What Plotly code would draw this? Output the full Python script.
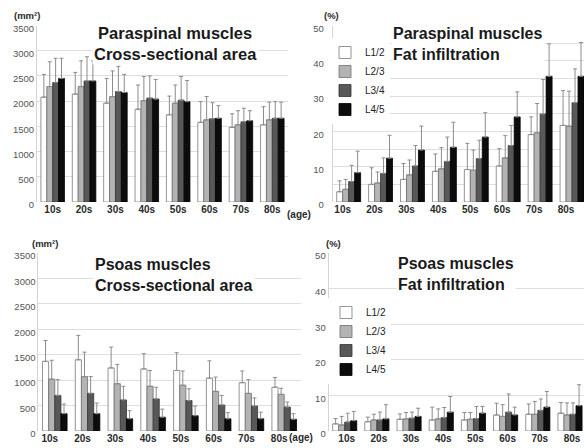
import plotly.graph_objects as go

W, H = 584, 448

ages = ["10s", "20s", "30s", "40s", "50s", "60s", "70s", "80s"]
levels = ["L1/2", "L2/3", "L3/4", "L4/5"]

# Paraspinal muscles, cross-sectional area (mm²): mean and SD, rows = L1/2..L4/5
para_csa_mean = [
    [2080, 2140, 1960, 1840, 1730, 1580, 1480, 1530],
    [2290, 2290, 2090, 2010, 1960, 1630, 1530, 1630],
    [2370, 2400, 2190, 2060, 2020, 1650, 1590, 1660],
    [2450, 2400, 2170, 2040, 1990, 1660, 1610, 1660],
]
para_csa_sd = [
    [450, 430, 490, 480, 370, 410, 270, 360],
    [490, 510, 510, 480, 360, 460, 280, 350],
    [480, 480, 500, 440, 470, 320, 270, 330],
    [400, 400, 360, 390, 420, 250, 200, 320],
]

# Paraspinal muscles, fat infiltration (%)
para_fat_mean = [
    [2.9, 5.0, 6.4, 8.7, 9.2, 10.2, 19.1, 21.7],
    [3.6, 5.4, 7.7, 9.4, 9.0, 12.5, 19.6, 21.5],
    [5.8, 8.1, 10.2, 11.5, 12.3, 16.0, 24.9, 28.1],
    [8.3, 12.4, 14.7, 15.5, 18.4, 24.1, 35.6, 35.6],
]
para_fat_sd = [
    [3.1, 4.7, 4.5, 4.9, 7.4, 4.9, 5.0, 9.9],
    [2.8, 3.1, 4.2, 6.0, 5.7, 6.3, 8.3, 9.9],
    [4.6, 4.4, 5.8, 6.9, 5.2, 5.7, 9.8, 9.6],
    [6.1, 6.5, 6.8, 7.1, 6.9, 7.1, 9.2, 9.6],
]

# Psoas muscles, cross-sectional area (mm²)
psoas_csa_mean = [
    [1370, 1400, 1240, 1220, 1190, 1040, 950, 860],
    [1020, 1070, 930, 880, 900, 780, 740, 720],
    [700, 740, 610, 630, 600, 510, 490, 470],
    [340, 340, 240, 270, 300, 240, 240, 230],
]
psoas_csa_sd = [
    [410, 480, 410, 300, 350, 340, 230, 190],
    [370, 480, 380, 310, 280, 280, 270, 120],
    [310, 330, 270, 230, 230, 190, 160, 100],
    [190, 210, 160, 160, 190, 120, 130, 110],
]

# Psoas muscles, fat infiltration (%)
psoas_fat_mean = [
    [2.0, 2.6, 3.3, 3.1, 3.1, 4.5, 4.7, 5.0],
    [1.7, 3.1, 3.4, 3.4, 3.3, 4.1, 4.7, 4.5],
    [2.5, 3.1, 3.6, 3.8, 3.5, 5.3, 5.8, 4.7],
    [2.9, 3.4, 4.1, 5.3, 5.0, 4.5, 6.7, 7.1],
]
psoas_fat_sd = [
    [1.5, 1.3, 1.5, 3.6, 2.1, 3.3, 2.9, 3.0],
    [2.4, 1.6, 1.8, 2.8, 1.9, 3.3, 3.6, 3.4],
    [2.5, 2.2, 1.7, 2.8, 3.4, 5.1, 3.2, 3.2],
    [2.6, 4.0, 2.3, 4.4, 1.9, 2.2, 4.4, 5.9],
]

fill_colors = ["#ffffff", "#b3b3b3", "#585858", "#0c0c0c"]
edge_colors = ["#7a7a7a", "#6e6e6e", "#333333", "#000000"]

FONT = "Liberation Sans, Arial, sans-serif"


def px_x(v):
    return v / W


def px_y(v):
    return 1 - v / H


fig = go.Figure()

panels = [
    ("x", "y", para_csa_mean, para_csa_sd, None),
    ("x2", "y2", para_fat_mean, para_fat_sd, "legend"),
    ("x3", "y3", psoas_csa_mean, psoas_csa_sd, None),
    ("x4", "y4", psoas_fat_mean, psoas_fat_sd, "legend2"),
]

for xa, ya, means, sds, leg in panels:
    for i, lvl in enumerate(levels):
        fig.add_trace(go.Bar(
            x=ages, y=means[i], name=lvl,
            xaxis=xa, yaxis=ya,
            marker=dict(color=fill_colors[i],
                        line=dict(color=edge_colors[i], width=0.8)),
            error_y=dict(type="data", symmetric=False, array=sds[i],
                         arrayminus=[0] * len(ages), color="#8c8c8c",
                         thickness=1, width=2),
            showlegend=leg is not None,
            legend=leg if leg else "legend",
        ))

xtick_font = dict(family=FONT, size=10, color="#2a2a2a", weight="bold")
ytick_font = dict(family=FONT, size=9.5, color="#555555")
grid_c = "#dedede"

top_dom = [px_y(202), px_y(25.5)]
bot_dom = [px_y(431), px_y(253)]

common_x = dict(type="category", showgrid=False, zeroline=False,
                showline=False, ticks="", tickfont=xtick_font)
common_y = dict(showgrid=True, gridcolor=grid_c, gridwidth=1, zeroline=False,
                showline=True, linecolor="#d4d4d4", linewidth=1, ticks="",
                tickfont=ytick_font, ticklabelshift=3)

fig.update_layout(
    width=W, height=H,
    margin=dict(l=0, r=0, t=0, b=0, autoexpand=False),
    paper_bgcolor="white", plot_bgcolor="white",
    barmode="group", bargap=0.25, bargroupgap=0,
    font=dict(family=FONT, color="#333333"),
    xaxis=dict(common_x, domain=[px_x(37), px_x(288)], anchor="y",
               range=[-0.5, 7.5]),
    yaxis=dict(common_y, domain=top_dom, anchor="x", range=[0, 3500],
               dtick=500),
    xaxis2=dict(common_x, domain=[px_x(332.7), 1.0], anchor="y2",
                range=[-0.5, 7.375], ticklabelshift=-6),
    yaxis2=dict(common_y, domain=top_dom, anchor="x2", range=[0, 50],
                dtick=10, ticklabelstandoff=6,
                minor=dict(dtick=5, showgrid=True, gridcolor=grid_c)),
    xaxis3=dict(common_x, domain=[px_x(38.4), px_x(300.6)], anchor="y3",
                range=[-0.5, 7.5], ticklabelshift=-5),
    yaxis3=dict(common_y, domain=bot_dom, anchor="x3", range=[0, 3500],
                dtick=500),
    xaxis4=dict(common_x, domain=[px_x(328.6), 1.0], anchor="y4",
                range=[-0.5, 7.435], ticklabelshift=2),
    yaxis4=dict(common_y, domain=bot_dom, anchor="x4", range=[0, 50],
                dtick=10),
)

legend_common = dict(font=dict(family=FONT, size=10, color="#222222"),
                     bgcolor="white", borderwidth=0, xanchor="left",
                     yanchor="top", itemwidth=30, tracegroupgap=0,
                     traceorder="normal")
fig.update_layout(
    legend=dict(legend_common, x=px_x(325), y=px_y(38)),
    legend2=dict(legend_common, x=px_x(326), y=px_y(298)),
)


def note(text, x, y, size=10, bold=False, xanchor="center", align="center",
         bg=None, color="#2a2a2a"):
    fig.add_annotation(
        text=text, x=px_x(x), y=px_y(y), xref="paper", yref="paper",
        showarrow=False, xanchor=xanchor, yanchor="middle", align=align,
        bgcolor=bg,
        font=dict(family=FONT, size=size, color=color,
                  weight="bold" if bold else "normal"),
    )


# panel titles
note("Paraspinal muscles<br>Cross-sectional area", 175, 43, size=16.5,
     bold=True, bg="white", color="#1a1a1a")
note("Paraspinal muscles<br>Fat infiltration", 391, 44, size=16, bold=True,
     xanchor="left", align="left", bg="white", color="#1a1a1a")
note("Psoas muscles<br>Cross-sectional area", 93, 275, size=16, bold=True,
     xanchor="left", align="left", bg="white", color="#1a1a1a")
note("Psoas muscles<br>Fat infiltration", 396, 274, size=16, bold=True,
     xanchor="left", align="left", bg="white", color="#1a1a1a")

# unit labels
note("(mm²)", 27, 15, size=9.5, bold=True)
note("(%)", 331, 15, size=9.5, bold=True)
note("(mm²)", 45, 244, size=9.5, bold=True)
note("(%)", 333, 244, size=9.5, bold=True)
note("(age)", 299, 214, size=10, bold=True)
note("(age)", 301, 437, size=10, bold=True)

fig.write_html("out.html")
